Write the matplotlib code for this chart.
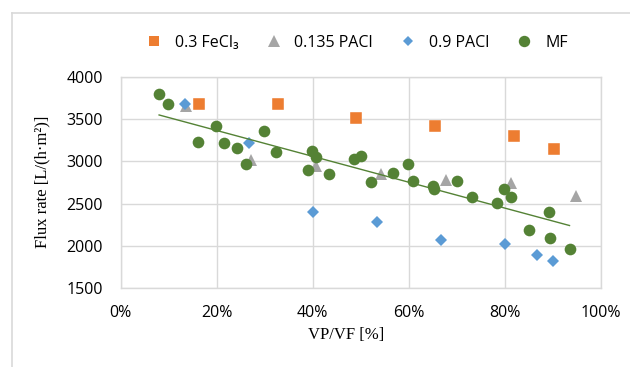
import numpy as np
import matplotlib.pyplot as plt
from matplotlib.lines import Line2D
from matplotlib.ticker import FuncFormatter

# data (x in %, y in L/(h*m2))
fecl3_x = [16.3, 32.7, 49.1, 65.5, 81.9, 90.2]
fecl3_y = [3675, 3675, 3510, 3420, 3295, 3140]

pacl135_x = [13.6, 27.1, 40.7, 54.2, 67.7, 81.3, 94.8]
pacl135_y = [3650, 3010, 2940, 2845, 2780, 2740, 2595]

pacl09_x = [13.3, 26.7, 40.0, 53.3, 66.7, 80.1, 86.8, 90.1]
pacl09_y = [3675, 3213, 2402, 2284, 2068, 2027, 1894, 1823]

mf_x = [8.0, 9.8, 16.0, 19.8, 21.6, 24.2, 26.0, 29.9, 32.4, 39.1, 39.9, 40.6,
        43.3, 48.7, 50.1, 52.1, 56.8, 59.9, 60.9, 65.0, 65.3, 70.0, 73.2,
        78.3, 79.9, 81.3, 85.1, 89.2, 89.4, 93.5]
mf_y = [3792, 3674, 3232, 3421, 3213, 3161, 2965, 3355, 3114, 2898, 3122, 3055,
        2854, 3028, 3060, 2752, 2859, 2965, 2772, 2709, 2677, 2772, 2575,
        2512, 2670, 2575, 2189, 2398, 2098, 1968]

labels = ['0.3 FeCl\u2083', '0.135 PACl', '0.9 PACl', 'MF']

orange = '#ED7D31'
gray = '#A5A5A5'
blue = '#5B9BD5'
green = '#548235'
grid_c = '#D9D9D9'

plt.rcParams['font.family'] = ['Open Sans', 'DejaVu Sans']

fig = plt.figure(figsize=(6.3, 3.67), dpi=100)
ax = fig.add_axes([120.7 / 630, 1 - 288.3 / 367, 480 / 630, (288.3 - 76.7) / 367])

ax.plot(fecl3_x, fecl3_y, 's', color=orange, ms=8.4, mec='white', mew=0.3, zorder=3)
ax.plot(pacl135_x, pacl135_y, '^', color=gray, ms=8.8, mew=0, zorder=4)
ax.plot(pacl09_x, pacl09_y, 'D', color=blue, ms=5.8, mew=0, zorder=5)
ax.plot(mf_x, mf_y, 'o', color=green, ms=8.4, mew=0, zorder=6)

# linear trendline on MF
k, b = np.polyfit(mf_x, mf_y, 1)
tx = np.array([min(mf_x), max(mf_x)])
ax.plot(tx, k * tx + b, color=green, lw=1.0, zorder=7)

ax.set_xlim(0, 100)
ax.set_ylim(1500, 4000)
ax.set_xticks(np.arange(0, 101, 20))
ax.set_yticks(np.arange(1500, 4001, 500))
ax.xaxis.set_major_formatter(FuncFormatter(lambda v, p: '%d%%' % v))
ax.grid(True, color=grid_c, lw=1.0)
ax.set_axisbelow(True)
for s in ax.spines.values():
    s.set_color(grid_c)
    s.set_linewidth(1.0)
ax.tick_params(length=0, labelsize=11.5, colors='#000000')
ax.tick_params(axis='y', pad=13)
ax.tick_params(axis='x', pad=12)

fig.text(42 / 630, 1 - 182 / 367, 'Flux rate [L/(h\u00b7m\u00b2)]', rotation=90,
         ha='center', va='center', fontsize=12, family='Liberation Serif')
fig.text(346 / 630, 1 - 335 / 367, 'VP/VF [%]', ha='center', va='center',
         fontsize=12, family='Liberation Serif')

handles = [
    Line2D([], [], ls='none', marker='s', color=orange, ms=7.8, mew=0),
    Line2D([], [], ls='none', marker='^', color=gray, ms=8.8, mew=0),
    Line2D([], [], ls='none', marker='D', color=blue, ms=5.6, mew=0),
    Line2D([], [], ls='none', marker='o', color=green, ms=8.2, mew=0),
]
fig.legend(handles, labels, loc='center', bbox_to_anchor=(357 / 630, 1 - 43 / 367),
           ncol=4, frameon=False, fontsize=11.5, handlelength=1.0,
           handletextpad=0.8, columnspacing=1.7)

# chart area border (cropped)
fig.add_artist(Line2D([12 / 630, 1], [1 - 13 / 367, 1 - 13 / 367], color=grid_c, lw=1.2))
fig.add_artist(Line2D([12 / 630, 12 / 630], [0, 1 - 13 / 367], color=grid_c, lw=1.2))

fig.savefig('out.png', dpi=100)
